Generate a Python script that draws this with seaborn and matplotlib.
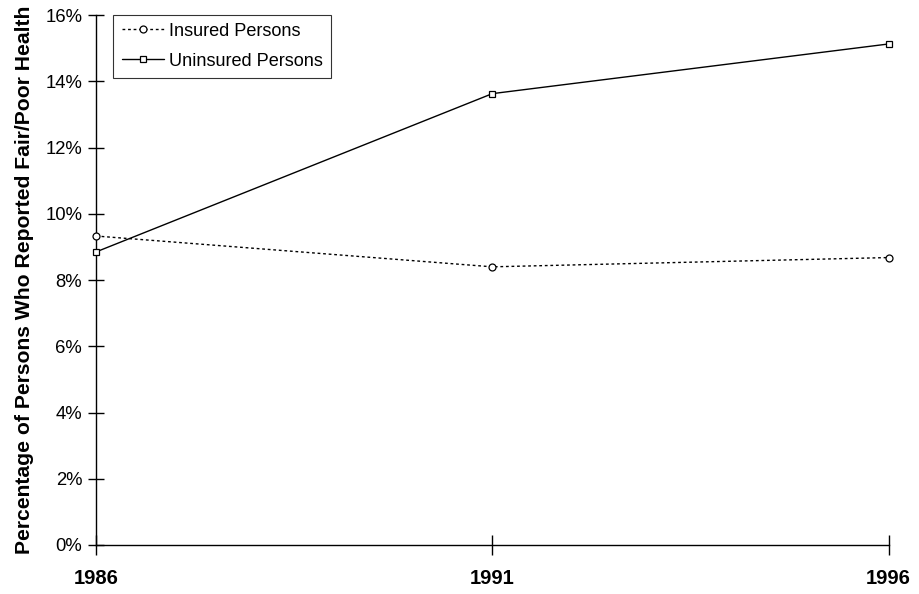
import pandas as pd
import numpy as np
import matplotlib.pyplot as plt
import seaborn as sns
from matplotlib.ticker import PercentFormatter

# values (percent)
years = [1986, 1991, 1996]
insured = [9.33, 8.40, 8.68]
uninsured = [8.85, 13.63, 15.13]

sns.set_style("white")
plt.rcParams['font.family'] = ['Liberation Sans', 'DejaVu Sans']
plt.rcParams['text.color'] = 'black'
plt.rcParams['axes.labelcolor'] = 'black'
plt.rcParams['xtick.color'] = 'black'
plt.rcParams['ytick.color'] = 'black'

fig = plt.figure(figsize=(9.19, 5.94), dpi=100)
ax = fig.add_axes([0.1045, 0.0825, 0.8625, 0.892])

sns.lineplot(x=years, y=insured, ax=ax, color="black", lw=1, linestyle=(0, (2, 2)),
             marker="o", markersize=5, markerfacecolor="white", markeredgecolor="black",
             markeredgewidth=0.9, label="Insured Persons", clip_on=False, zorder=3)
sns.lineplot(x=years, y=uninsured, ax=ax, color="black", lw=1,
             marker="s", markersize=5, markerfacecolor="white", markeredgecolor="black",
             markeredgewidth=0.9, label="Uninsured Persons", clip_on=False, zorder=3)

ax.set_xlim(1986, 1996)
ax.set_ylim(0, 16)
ax.set_xticks(years)
ax.set_xticklabels([str(y) for y in years], fontweight="bold", fontsize=14.5)
ax.set_yticks(np.arange(0, 17, 2))
ax.yaxis.set_major_formatter(PercentFormatter(decimals=0))
ax.tick_params(axis="y", left=True, labelsize=13.3, direction="inout", length=12, width=1, pad=4)
ax.tick_params(axis="x", bottom=True, direction="inout", length=14, width=1, pad=10)
ax.set_ylabel("Percentage of Persons Who Reported Fair/Poor Health", fontweight="bold", fontsize=15.2, labelpad=8)

for s in ["top", "right"]:
    ax.spines[s].set_visible(False)
for s in ["left", "bottom"]:
    ax.spines[s].set_color("black")
    ax.spines[s].set_linewidth(1)

leg = ax.legend(loc="upper left", bbox_to_anchor=(0.022, 1.001), borderaxespad=0, fontsize=13.1,
                frameon=True, fancybox=False, edgecolor="black", handlelength=2.3,
                borderpad=0.45, labelspacing=0.7, handletextpad=0.3)
leg.get_frame().set_linewidth(0.8)

fig.savefig("out.png", dpi=100)
